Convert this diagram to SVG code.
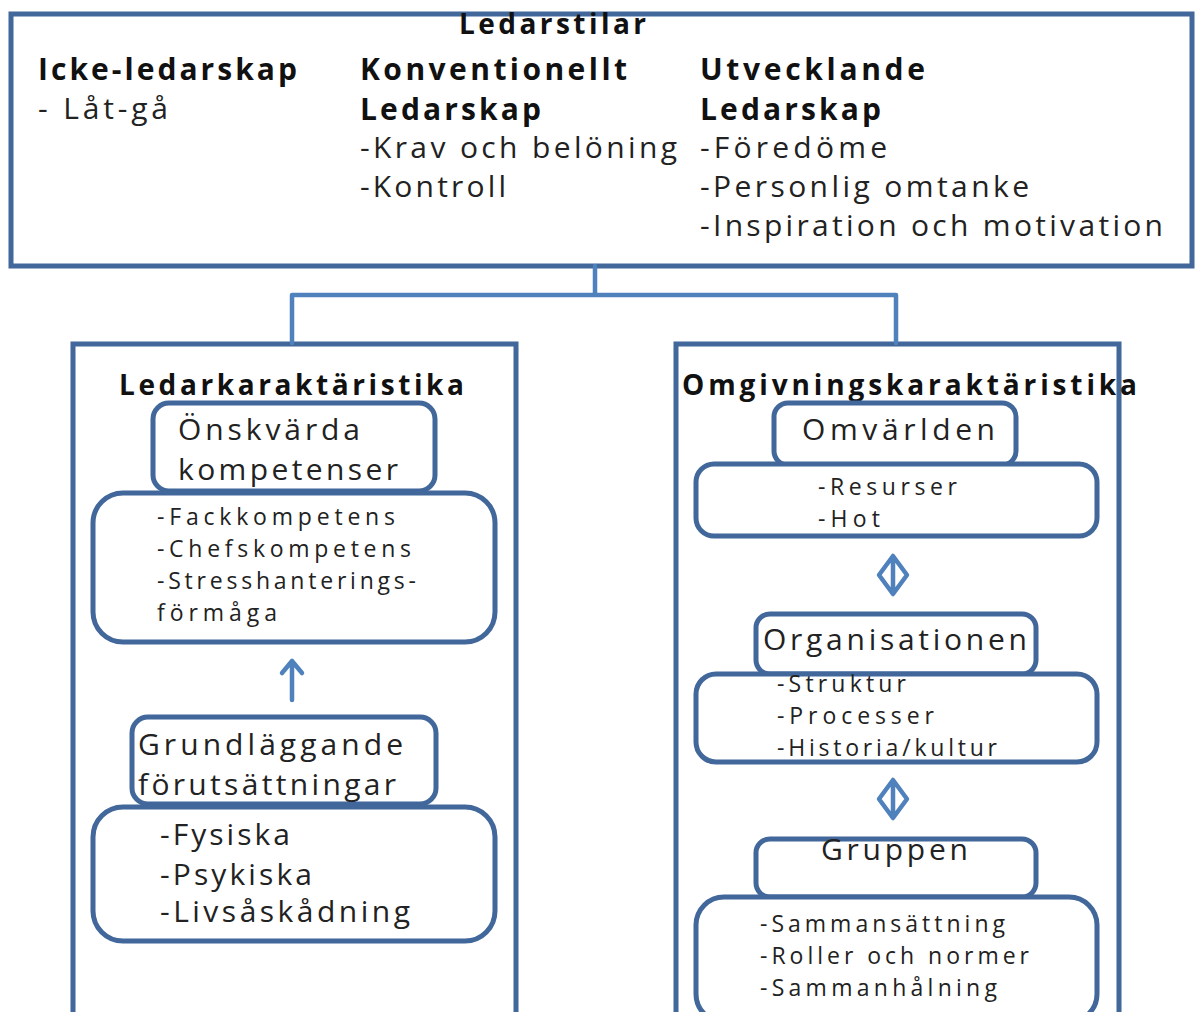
<svg xmlns="http://www.w3.org/2000/svg" width="1195" height="1012" viewBox="0 0 1195 1012">
<style>
.frame{fill:#fff;stroke:#41679b;stroke-width:5}
.rb{fill:#fff;stroke:#41679b;stroke-width:5}
.conn{fill:none;stroke:#4f81bd;stroke-width:4.5;stroke-linejoin:round;stroke-linecap:round}
text{font-family:"Open Sans","Liberation Sans",Arial,sans-serif;fill:#222}
.b{font-weight:bold;fill:#111}
.t28{font-size:30px}
.t26{font-size:28px}
.t22{font-size:23px}
</style>
<rect width="1195" height="1012" fill="#fff"/>
<g id="ledarstilar">
<rect class="frame" x="11" y="14" width="1181" height="252"/>
<text class="b t26" x="459" y="34" textLength="187" lengthAdjust="spacing">Ledarstilar</text>
<text class="b t28" x="38" y="80" textLength="259" lengthAdjust="spacing">Icke-ledarskap</text>
<text class="t28" x="38" y="119" textLength="130" lengthAdjust="spacing">- Låt-gå</text>
<text class="b t28" x="360" y="80" textLength="267" lengthAdjust="spacing">Konventionellt</text>
<text class="b t28" x="360" y="120" textLength="181" lengthAdjust="spacing">Ledarskap</text>
<text class="t28" x="360" y="158" textLength="317" lengthAdjust="spacing">-Krav och belöning</text>
<text class="t28" x="360" y="197" textLength="146" lengthAdjust="spacing">-Kontroll</text>
<text class="b t28" x="700" y="80" textLength="225" lengthAdjust="spacing">Utvecklande</text>
<text class="b t28" x="700" y="120" textLength="181" lengthAdjust="spacing">Ledarskap</text>
<text class="t28" x="700" y="158" textLength="187" lengthAdjust="spacing">-Föredöme</text>
<text class="t28" x="700" y="197" textLength="329" lengthAdjust="spacing">-Personlig omtanke</text>
<text class="t28" x="700" y="236" textLength="463" lengthAdjust="spacing">-Inspiration och motivation</text>
</g>
<g id="ledarkaraktaristika">
<path class="frame" d="M73,1014 V344 H516 V1014"/>
<text class="b t26" x="119" y="395" textLength="345" lengthAdjust="spacing">Ledarkaraktäristika</text>
</g>
<g id="onskvarda">
<rect class="rb" x="153" y="403" width="282" height="88" rx="16"/>
<text class="t28" x="178" y="440" textLength="182" lengthAdjust="spacing">Önskvärda</text>
<text class="t28" x="178" y="480" textLength="220" lengthAdjust="spacing">kompetenser</text>
</g>
<g id="kompetenser">
<rect class="rb" x="93" y="493" width="402" height="149" rx="30"/>
<text class="t22" x="157" y="525" textLength="238" lengthAdjust="spacing">-Fackkompetens</text>
<text class="t22" x="157" y="557" textLength="254" lengthAdjust="spacing">-Chefskompetens</text>
<text class="t22" x="157" y="589" textLength="259" lengthAdjust="spacing">-Stresshanterings-</text>
<text class="t22" x="157" y="621" textLength="120" lengthAdjust="spacing">förmåga</text>
</g>
<g id="grundlaggande">
<rect class="rb" x="132" y="717" width="304" height="87" rx="16"/>
<text class="t28" x="138" y="755" textLength="265" lengthAdjust="spacing">Grundläggande</text>
<text class="t28" x="138" y="795" textLength="258" lengthAdjust="spacing">förutsättningar</text>
</g>
<g id="forutsattningar">
<rect class="rb" x="93" y="807" width="402" height="134" rx="30"/>
<text class="t28" x="160" y="845" textLength="130" lengthAdjust="spacing">-Fysiska</text>
<text class="t28" x="160" y="885" textLength="152" lengthAdjust="spacing">-Psykiska</text>
<text class="t28" x="160" y="922" textLength="250" lengthAdjust="spacing">-Livsåskådning</text>
</g>
<g id="omgivningskaraktaristika">
<path class="frame" d="M676,1014 V344 H1119 V1014"/>
<text class="b t26" x="682" y="395" textLength="455" lengthAdjust="spacing">Omgivningskaraktäristika</text>
</g>
<g id="omvarlden">
<rect class="rb" x="774" y="403" width="242" height="62" rx="14"/>
<text class="t28" x="802" y="440" textLength="193" lengthAdjust="spacing">Omvärlden</text>
</g>
<g id="omvarlden-items">
<rect class="rb" x="696" y="464" width="401" height="72" rx="18"/>
<text class="t22" x="818" y="495" textLength="139" lengthAdjust="spacing">-Resurser</text>
<text class="t22" x="818" y="527" textLength="62" lengthAdjust="spacing">-Hot</text>
</g>
<g id="organisationen">
<rect class="rb" x="756" y="614" width="280" height="60" rx="14"/>
<text class="t28" x="763" y="650" textLength="264" lengthAdjust="spacing">Organisationen</text>
</g>
<g id="organisationen-items">
<rect class="rb" x="696" y="674" width="401" height="88" rx="20"/>
<text class="t22" x="777" y="692" textLength="129" lengthAdjust="spacing">-Struktur</text>
<text class="t22" x="777" y="724" textLength="157" lengthAdjust="spacing">-Processer</text>
<text class="t22" x="777" y="756" textLength="220" lengthAdjust="spacing">-Historia/kultur</text>
</g>
<g id="gruppen">
<rect class="rb" x="756" y="839" width="280" height="58" rx="14"/>
<text class="t28" x="821" y="860" textLength="147" lengthAdjust="spacing">Gruppen</text>
</g>
<g id="gruppen-items">
<rect class="rb" x="696" y="897" width="401" height="125" rx="28"/>
<text class="t22" x="760" y="932" textLength="245" lengthAdjust="spacing">-Sammansättning</text>
<text class="t22" x="760" y="964" textLength="269" lengthAdjust="spacing">-Roller och normer</text>
<text class="t22" x="760" y="996" textLength="237" lengthAdjust="spacing">-Sammanhålning</text>
</g>
<g id="connectors">
<path class="conn" d="M595,266 V295 H292 V343 M595,295 H896 V343"/>
<path class="conn" d="M292,700 V661 M282,673 L292,661 L302,673"/>
<path class="conn" d="M893,556 L907,575 L893,594 L879,575 Z M893,558 V592"/>
<path class="conn" d="M893,780 L907,799 L893,818 L879,799 Z M893,782 V816"/>
</g>
</svg>
